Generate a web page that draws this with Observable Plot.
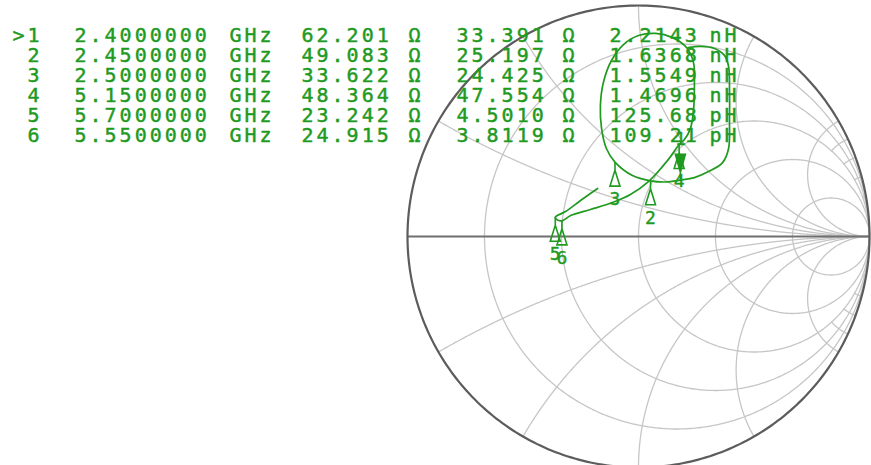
<!DOCTYPE html>
<html><head><meta charset="utf-8">
<script src="https://cdn.jsdelivr.net/npm/d3@7"></script>
<script src="https://cdn.jsdelivr.net/npm/@observablehq/plot@0.6"></script>
<style>
html,body{margin:0;padding:0;background:#fff;overflow:hidden}
#wrap{position:relative;width:871px;height:465px;overflow:hidden;background:#fff}
#wrap svg{position:absolute;left:0;top:0;background:transparent}
</style></head><body><div id="wrap"></div>
<script>
// ---- marker table ----
const markerIds = ["1","2","3","4","5","6"];
const activeMarker = "1";
const freqGHz = [2.4, 2.45, 2.5, 5.15, 5.7, 5.55];
const resistance = [62.201, 49.083, 33.622, 48.364, 23.242, 24.915];   // Ω
const reactance = [33.391, 25.197, 24.425, 47.554, 4.5010, 3.8119];     // Ω
const inductance = [2.2143, 1.6368, 1.5549, 1.4696, 125.68, 109.21];
const inductanceUnit = ["nH","nH","nH","nH","pH","pH"];
const Z0 = 50;

// ---- Smith chart grid values ----
const gridR = [0.2, 0.5, 1, 2, 5];
const gridX = [0.2679, 0.5774, 1, 1.732, 3.732];
const fineX = [4.51, 5.67, 7.6, 11.4, 22.9];
const fineXMaxR = 1;

const traceRe = [0.216,0.268,0.329,0.372,0.390,0.394,0.394,0.390,0.364,0.303,0.242,0.181,0.117,0.052,-0.026,-0.102,-0.139,-0.160,-0.165,-0.152,-0.117,-0.065,0.000,0.074,0.147,0.208,0.238,0.242,0.238,0.225,0.199,0.176,0.126,0.043,-0.035,-0.113,-0.208,-0.294,-0.331,-0.355,-0.360,-0.316,-0.251,-0.177];
const traceIm = [0.818,0.823,0.814,0.784,0.736,0.632,0.502,0.381,0.320,0.281,0.255,0.244,0.236,0.241,0.264,0.322,0.381,0.468,0.567,0.667,0.762,0.831,0.870,0.879,0.861,0.818,0.753,0.654,0.545,0.468,0.420,0.398,0.329,0.238,0.182,0.147,0.117,0.091,0.068,0.074,0.084,0.108,0.156,0.208];

const green = "#1f9a1f";
const mono = "DejaVu Sans Mono, monospace";

function gamma(a, b) { // z = a + jb (normalized)
  const den = (a + 1) * (a + 1) + b * b;
  return [(a * a + b * b - 1) / den, 2 * b / den];
}
const N = 600;
const grid = [];
gridR.forEach(r => {
  for (let i = 0; i <= N; i++) {
    const t = -Math.PI / 2 + 1e-4 + (Math.PI - 2e-4) * i / N;
    const [re, im] = gamma(r, Math.tan(t));
    grid.push({id: "r" + r, re, im});
  }
});
gridX.forEach(xv => {
  [xv, -xv].forEach(s => {
    for (let i = 0; i <= N; i++) {
      const t = (Math.PI / 2 - 1e-4) * i / N;
      const [re, im] = gamma(Math.tan(t), s);
      grid.push({id: "x" + s, re, im});
    }
  });
});
fineX.forEach(xv => {
  [xv, -xv].forEach(s => {
    for (let i = 0; i <= 60; i++) {
      const [re, im] = gamma(fineXMaxR * i / 60, s);
      grid.push({id: "f" + s, re, im});
    }
  });
});
const rim = d3.range(0, 361).map(a => ({re: Math.cos(a * Math.PI / 180), im: Math.sin(a * Math.PI / 180)}));
const trace = traceRe.map((re, i) => ({re, im: traceIm[i]}));
const markers = markerIds.map((id, i) => {
  const [re, im] = gamma(resistance[i] / Z0, reactance[i] / Z0);
  return {id, re, im, f: freqGHz[i], R: resistance[i], X: reactance[i], L: inductance[i], Lu: inductanceUnit[i]};
});
const upMarker = {draw(ctx) { ctx.moveTo(0, 0); ctx.lineTo(0, 8); ctx.lineTo(-5, 24); ctx.lineTo(5, 24); ctx.lineTo(0, 8); ctx.closePath(); }};
const downMarker = {draw(ctx) { ctx.moveTo(0, 0); ctx.lineTo(0, -8); ctx.lineTo(-5, -26); ctx.lineTo(5, -26); ctx.lineTo(0, -8); ctx.closePath(); }};

const chart = Plot.plot({
  width: 871, height: 470,
  marginLeft: 407, marginRight: 2, marginTop: 5, marginBottom: 3,
  x: {domain: [-1, 1], axis: null},
  y: {domain: [-1, 1], axis: null},
  marks: [
    Plot.line(grid, {x: "re", y: "im", z: "id", stroke: "#c6c6c6", strokeWidth: 1.3}),
    Plot.ruleY([0], {x1: -1, x2: 1, stroke: "#6f6f6f", strokeWidth: 2}),
    Plot.line(rim, {x: "re", y: "im", stroke: "#5c5c5c", strokeWidth: 2.2}),
    Plot.line(trace, {x: "re", y: "im", stroke: green, strokeWidth: 1.7, curve: "catmull-rom"}),
    Plot.dot(markers.filter(d => d.id !== activeMarker), {x: "re", y: "im", symbol: upMarker, r: 5, stroke: green, fill: "white", fillOpacity: 0, strokeWidth: 1.6}),
    Plot.dot(markers.filter(d => d.id === activeMarker), {x: "re", y: "im", symbol: downMarker, r: 5, stroke: green, fill: green, strokeWidth: 1.6}),
    Plot.text(markers.filter(d => d.id !== activeMarker), {x: "re", y: "im", text: "id", dy: 37, fill: green, fontSize: 18, fontFamily: mono}),
    Plot.text(markers.filter(d => d.id === activeMarker), {x: "re", y: "im", text: "id", dy: -41, fill: green, fontSize: 18, fontFamily: mono})
  ]
});
d3.select(chart).selectAll("text").attr("stroke", green).attr("stroke-width", 0.4);
document.getElementById("wrap").append(chart);

const tableColumns = [
  {text: d => (d.id === activeMarker ? ">" : "") + d.id, dx: 42, anchor: "end"},
  {text: d => d.f.toFixed(7), dx: 74},
  {text: () => "GHz", dx: 229},
  {text: d => d.R.toFixed(3), dx: 301},
  {text: () => "\u03A9", dx: 408},
  {text: d => d.X.toPrecision(5), dx: 456},
  {text: () => "\u03A9", dx: 562},
  {text: d => d.L.toPrecision(5), dx: 609},
  {text: d => d.Lu, dx: 709}
];
const table = Plot.plot({
  width: 871, height: 170, margin: 0,
  x: {axis: null},
  y: {type: "point", domain: markerIds, range: [22, 147], axis: null},
  marks: tableColumns.map(c => Plot.text(markers, {
    y: "id", text: c.text, frameAnchor: "left", dx: c.dx,
    textAnchor: c.anchor || "start", fill: green, fontSize: 20, fontFamily: mono
  }))
});
d3.select(table).selectAll("text").style("letter-spacing", "3px").attr("stroke", green).attr("stroke-width", 0.45);
document.getElementById("wrap").append(table);
</script></body></html>
